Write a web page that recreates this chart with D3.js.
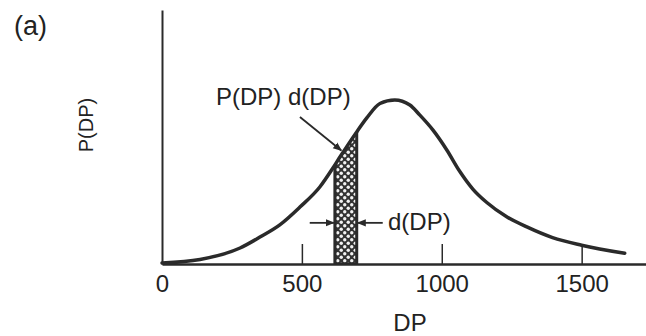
<!DOCTYPE html>
<html>
<head>
<meta charset="utf-8">
<script src="https://cdn.jsdelivr.net/npm/d3@7"></script>
<style>
  body { margin: 0; background: #fff; }
  svg { display: block; font-family: "Liberation Sans", Arial, sans-serif; }
</style>
</head>
<body>
<svg id="chart" width="646" height="336"></svg>
<script>
// distribution curve (P in arbitrary units)
const dpValues = [0, 136, 279, 350, 421, 493, 564, 611, 636, 696, 732, 779, 832, 886, 921, 968, 1018, 1064, 1111, 1161, 1232, 1304, 1396, 1500, 1654];
const pValues = [0.004, 0.018, 0.063, 0.106, 0.154, 0.224, 0.303, 0.378, 0.421, 0.52, 0.575, 0.632, 0.646, 0.626, 0.587, 0.528, 0.449, 0.365, 0.295, 0.242, 0.186, 0.146, 0.104, 0.074, 0.042];
const xTicks = [0, 500, 1000, 1500];
const sliceRange = [618, 696];   // the shaded d(DP) strip

const width = 646, height = 336;
const svg = d3.select("#chart");

const x = d3.scaleLinear().domain([0, 1730]).range([162, 646]);
const y = d3.scaleLinear().domain([0, 1]).range([264, 10]);

const ink = "#2a2a2a";
const points = dpValues.map((d, i) => ({ dp: d, p: pValues[i] }));

const defs = svg.append("defs");

// dotted fill of the strip: dark ground, light circles
const pat = defs.append("pattern")
    .attr("id", "dots")
    .attr("patternUnits", "userSpaceOnUse")
    .attr("width", 7).attr("height", 7);
pat.append("rect").attr("width", 7).attr("height", 7).attr("fill", "#333");
pat.append("circle").attr("cx", 1.75).attr("cy", 1.75).attr("r", 1.7).attr("fill", "#f2f2f2");
pat.append("circle").attr("cx", 5.25).attr("cy", 5.25).attr("r", 1.7).attr("fill", "#f2f2f2");

defs.append("marker")
    .attr("id", "head")
    .attr("viewBox", "0 0 10 10")
    .attr("refX", 9).attr("refY", 5)
    .attr("markerWidth", 5).attr("markerHeight", 5)
    .attr("markerUnits", "strokeWidth")
    .attr("orient", "auto")
  .append("path")
    .attr("d", "M0,1 L10,5 L0,9 Z")
    .attr("fill", ink);

const curve = d3.curveMonotoneX;
const line = d3.line().x(d => x(d.dp)).y(d => y(d.p)).curve(curve);
const area = d3.area().x(d => x(d.dp)).y0(y(0)).y1(d => y(d.p)).curve(curve);

defs.append("clipPath").attr("id", "under")
  .append("path").attr("d", area(points));

// shaded strip under the curve
svg.append("rect")
    .attr("clip-path", "url(#under)")
    .attr("x", x(sliceRange[0]))
    .attr("y", y(1))
    .attr("width", x(sliceRange[1]) - x(sliceRange[0]))
    .attr("height", y(0) - y(1))
    .attr("fill", "url(#dots)")
    .attr("stroke", ink)
    .attr("stroke-width", 3);

// axes
const xAxis = svg.append("g")
    .attr("transform", `translate(0,${y(0)})`)
    .call(d3.axisBottom(x).tickValues(xTicks).tickFormat(d3.format("d"))
        .tickSizeInner(-20).tickSizeOuter(0).tickPadding(11));
xAxis.select(".domain").attr("stroke", ink).attr("stroke-width", 2.5);
xAxis.selectAll(".tick line").attr("stroke", ink).attr("stroke-width", 1.5)
    .filter(d => d === 0).remove();
xAxis.selectAll(".tick text")
    .attr("fill", "#222")
    .attr("font-size", 24)
    .attr("font-family", "Liberation Sans, Arial, sans-serif");

const yAxis = svg.append("g")
    .attr("transform", `translate(${x(0)},0)`)
    .call(d3.axisLeft(y).tickValues([]).tickSizeOuter(0));
yAxis.select(".domain").attr("stroke", ink).attr("stroke-width", 2);

// distribution curve
svg.append("path")
    .datum(points)
    .attr("d", line)
    .attr("fill", "none")
    .attr("stroke", ink)
    .attr("stroke-width", 3.5)
    .attr("stroke-linecap", "round");

// annotations
svg.append("text")
    .attr("x", 14).attr("y", 35)
    .attr("font-size", 27)
    .attr("fill", "#222")
    .text("(a)");

svg.append("text")
    .attr("transform", "translate(93,125) rotate(-90)")
    .attr("text-anchor", "middle")
    .attr("font-size", 20)
    .attr("fill", "#222")
    .text("P(DP)");

svg.append("text")
    .attr("x", 410).attr("y", 331)
    .attr("text-anchor", "middle")
    .attr("font-size", 24)
    .attr("fill", "#222")
    .text("DP");

svg.append("text")
    .attr("x", 216).attr("y", 105)
    .attr("font-size", 24)
    .attr("fill", "#222")
    .text("P(DP) d(DP)");

svg.append("line")
    .attr("x1", x(493)).attr("y1", y(0.579))
    .attr("x2", x(641)).attr("y2", y(0.447))
    .attr("stroke", ink).attr("stroke-width", 1.8)
    .attr("marker-end", "url(#head)");

// width arrows around the strip
const arrowY = y(0.162);
svg.append("line")
    .attr("x1", x(528)).attr("y1", arrowY)
    .attr("x2", x(sliceRange[0]) - 1).attr("y2", arrowY)
    .attr("stroke", ink).attr("stroke-width", 1.8)
    .attr("marker-end", "url(#head)");
svg.append("line")
    .attr("x1", x(789)).attr("y1", arrowY)
    .attr("x2", x(sliceRange[1]) + 1).attr("y2", arrowY)
    .attr("stroke", ink).attr("stroke-width", 1.8)
    .attr("marker-end", "url(#head)");

svg.append("text")
    .attr("x", 388).attr("y", 230)
    .attr("font-size", 24)
    .attr("fill", "#222")
    .text("d(DP)");
</script>
</body>
</html>
